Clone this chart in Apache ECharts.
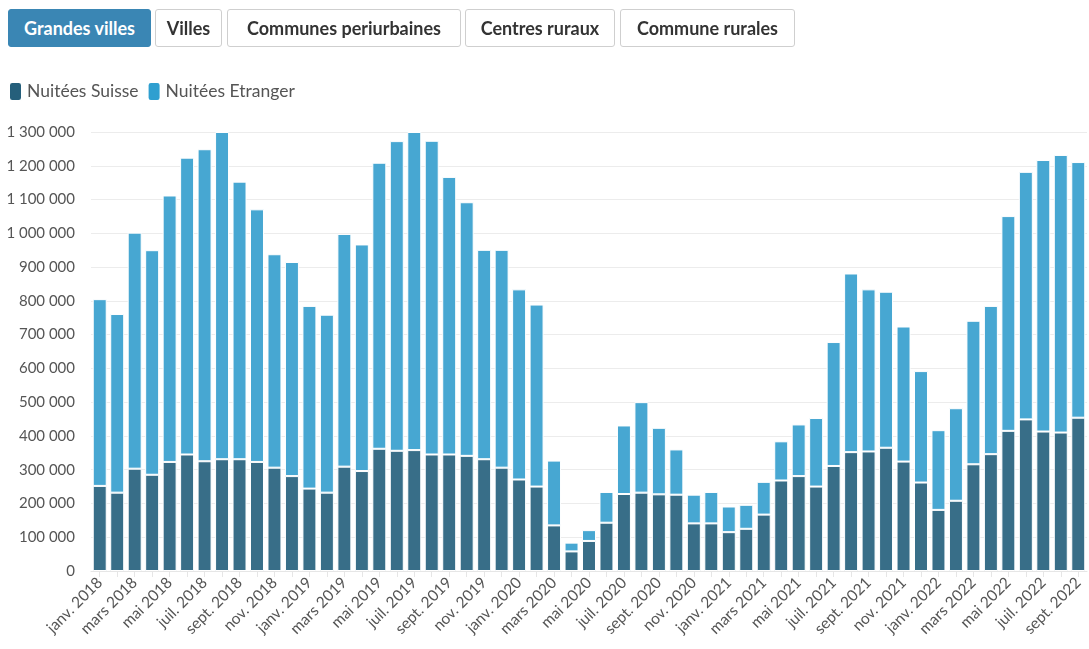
<!DOCTYPE html>
<html>
<head>
<meta charset="utf-8">
<script src="https://cdn.jsdelivr.net/npm/echarts@6/dist/echarts.min.js"></script>
<style>
  html, body { margin: 0; padding: 0; background: #fff; width: 1089px; height: 649px; overflow: hidden; font-family: Lato, "Noto Sans", sans-serif; }
  #btns { position: absolute; left: 8px; top: 9px; }
  .btn { position: absolute; top: 0; height: 38px; box-sizing: border-box; border: 1px solid #cfcfcf; border-radius: 3px; background: #fff; color: #333; font-weight: bold; font-size: 18px; display: flex; align-items: center; justify-content: center; font-family: Lato, "Noto Sans", sans-serif; letter-spacing: 0; white-space: nowrap; }
  .btn.active { background: #3a86b4; border-color: #3a86b4; color: #fff; }
  #chart { position: absolute; left: 0; top: 0; width: 1089px; height: 649px; }
</style>
</head>
<body>
<div id="chart"></div>
<div id="btns">
  <div class="btn active" style="left:0;width:143px">Grandes villes</div>
  <div class="btn" style="left:147px;width:67px">Villes</div>
  <div class="btn" style="left:219px;width:234px">Communes periurbaines</div>
  <div class="btn" style="left:457px;width:150px">Centres ruraux</div>
  <div class="btn" style="left:612px;width:175px">Commune rurales</div>
</div>
<script>
const monthNames = ['janv.', 'févr.', 'mars', 'avr.', 'mai', 'juin', 'juil.', 'août', 'sept.', 'oct.', 'nov.', 'déc.'];
const years = [2018, 2019, 2020, 2021, 2022];
const categories = [];
years.forEach(y => monthNames.forEach((m, i) => { if (y < 2022 || i < 9) categories.push(m + ' ' + y); }));

const suisse = [
  252, 232, 303, 285, 323, 345, 325, 331, 331, 323, 306, 281,
  244, 232, 309, 296, 362, 356, 358, 345, 345, 341, 331, 306,
  271, 250, 135, 58, 89, 143, 228, 232, 227, 226, 141, 141,
  115, 125, 167, 268, 281, 250, 311, 352, 354, 365, 324, 262,
  181, 208, 316, 346, 415, 449, 413, 410, 454
].map(v => v * 1000);

const etranger = [
  553, 529, 699, 665, 789, 879, 924, 969, 822, 748, 632, 634,
  541, 527, 689, 671, 847, 917, 942, 929, 822, 751, 620, 645,
  563, 539, 192, 26, 32, 91, 203, 268, 197, 134, 85, 93,
  76, 71, 97, 116, 153, 203, 367, 529, 480, 462, 400, 330,
  236, 274, 425, 439, 636, 733, 804, 822, 757
].map(v => v * 1000);

const yTicks = { min: 0, max: 1300000, interval: 100000 };
const seriesNames = ['Nuitées Suisse', 'Nuitées Etranger'];

const fmt = v => String(v).replace(/\B(?=(\d{3})+(?!\d))/g, ' ');
const FONT = 'Lato, "Noto Sans", sans-serif';

const chart = echarts.init(document.getElementById('chart'), null, { renderer: 'canvas' });
chart.setOption({
  animation: false,
  textStyle: { fontFamily: FONT },
  legend: {
    left: 8, top: 81, padding: 0,
    itemWidth: 13, itemHeight: 19, itemGap: 8,
    icon: 'roundRect',
    textStyle: { color: '#555', fontSize: 17.5, fontFamily: FONT },
    data: [
      { name: seriesNames[0], itemStyle: { color: '#255f7b' } },
      { name: seriesNames[1], itemStyle: { color: '#2f9fd0' } }
    ]
  },
  grid: { left: 91, right: 2, top: 132, bottom: 78, containLabel: false },
  xAxis: {
    type: 'category',
    data: categories,
    axisLine: { show: true, lineStyle: { color: '#e6e6e6' } },
    axisTick: { show: true, alignWithLabel: true, interval: 0, length: 6, lineStyle: { color: '#e6e6e6' } },
    axisLabel: { interval: 1, rotate: 45, color: '#555', fontSize: 15.5, margin: 9, fontFamily: FONT }
  },
  yAxis: {
    type: 'value',
    min: yTicks.min, max: yTicks.max, interval: yTicks.interval,
    axisLine: { show: false },
    axisTick: { show: false },
    splitLine: { lineStyle: { color: '#ececec' } },
    axisLabel: { color: '#555', fontSize: 15, margin: 16, formatter: fmt, fontFamily: FONT }
  },
  series: [
    {
      name: seriesNames[0], type: 'bar', stack: 'total', data: suisse,
      barCategoryGap: '20%',
      itemStyle: { color: '#386e88', borderColor: '#fff', borderWidth: 1 }
    },
    {
      name: seriesNames[1], type: 'bar', stack: 'total', data: etranger,
      barCategoryGap: '20%',
      itemStyle: { color: '#47a7d2', borderColor: '#fff', borderWidth: 1 }
    }
  ]
});
</script>
</body>
</html>
